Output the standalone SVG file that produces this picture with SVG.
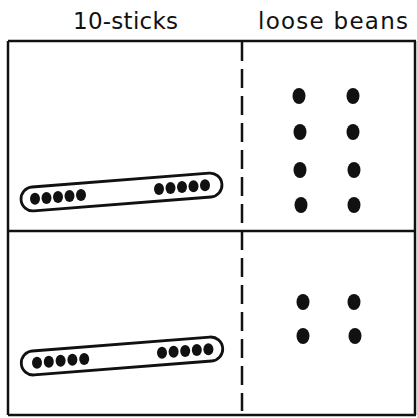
<svg xmlns="http://www.w3.org/2000/svg" width="417" height="418" viewBox="0 0 417 418">
<style>
.line{stroke:#111;stroke-width:2.5;fill:none}
.dash{stroke:#111;stroke-width:2.5;fill:none;stroke-dasharray:19 8}
.stick{fill:#fff;stroke:#111;stroke-width:2.8}
.dot{fill:#111}
.bean{fill:#111}
.hdr{font-family:"DejaVu Sans",sans-serif;font-size:23px;fill:#111}
</style>
<rect width="417" height="418" fill="#fff"/>
<g id="header-sticks"><text class="hdr" x="73" y="29" textLength="105" lengthAdjust="spacing">10-sticks</text></g>
<g id="header-beans"><text class="hdr" x="258" y="29" textLength="150" lengthAdjust="spacing">loose beans</text></g>
<g id="connectors">
<line class="line" x1="8" y1="41" x2="416" y2="41"/>
<line class="line" x1="8" y1="41" x2="8" y2="415"/>
<line class="line" x1="415" y1="41" x2="415" y2="415"/>
<line class="line" x1="8" y1="415" x2="416" y2="415"/>
<line class="line" x1="8" y1="231" x2="416" y2="231"/>
<line class="dash" x1="242" y1="42" x2="242" y2="411"/>
</g>
<g id="row1-sticks">
<rect class="stick" x="-100.75" y="-12" width="201.5" height="24" rx="12" transform="translate(121.5,192) rotate(-4.5)"/>
<ellipse class="dot" cx="35" cy="198.8" rx="5" ry="6"/>
<ellipse class="dot" cx="46.5" cy="197.9" rx="5" ry="6"/>
<ellipse class="dot" cx="58" cy="197" rx="5" ry="6"/>
<ellipse class="dot" cx="69.5" cy="196.1" rx="5" ry="6"/>
<ellipse class="dot" cx="81" cy="195.1" rx="5" ry="6"/>
<ellipse class="dot" cx="159" cy="189" rx="5" ry="6"/>
<ellipse class="dot" cx="170.5" cy="188.1" rx="5" ry="6"/>
<ellipse class="dot" cx="182" cy="187.1" rx="5" ry="6"/>
<ellipse class="dot" cx="193.5" cy="186.3" rx="5" ry="6"/>
<ellipse class="dot" cx="205" cy="185.3" rx="5" ry="6"/>
</g>
<g id="row1-beans">
<ellipse class="bean" cx="299" cy="96" rx="6.5" ry="8"/>
<ellipse class="bean" cx="353" cy="96" rx="6.5" ry="8"/>
<ellipse class="bean" cx="300" cy="132" rx="6.5" ry="8"/>
<ellipse class="bean" cx="353" cy="132" rx="6.5" ry="8"/>
<ellipse class="bean" cx="300" cy="170" rx="6.5" ry="8"/>
<ellipse class="bean" cx="354" cy="170" rx="6.5" ry="8"/>
<ellipse class="bean" cx="301" cy="205" rx="6.5" ry="8"/>
<ellipse class="bean" cx="354" cy="205" rx="6.5" ry="8"/>
</g>
<g id="row2-sticks">
<rect class="stick" x="-101" y="-12" width="202" height="24" rx="12" transform="translate(122,356) rotate(-4.5)"/>
<ellipse class="dot" cx="37" cy="362.7" rx="5" ry="6"/>
<ellipse class="dot" cx="48.8" cy="361.7" rx="5" ry="6"/>
<ellipse class="dot" cx="60.6" cy="360.8" rx="5" ry="6"/>
<ellipse class="dot" cx="72.4" cy="359.8" rx="5" ry="6"/>
<ellipse class="dot" cx="84.2" cy="358.9" rx="5" ry="6"/>
<ellipse class="dot" cx="162" cy="352.8" rx="5" ry="6"/>
<ellipse class="dot" cx="173.6" cy="351.8" rx="5" ry="6"/>
<ellipse class="dot" cx="185.2" cy="350.9" rx="5" ry="6"/>
<ellipse class="dot" cx="196.8" cy="350" rx="5" ry="6"/>
<ellipse class="dot" cx="208.4" cy="349.2" rx="5" ry="6"/>
</g>
<g id="row2-beans">
<ellipse class="bean" cx="303" cy="302" rx="6.5" ry="8"/>
<ellipse class="bean" cx="354" cy="302" rx="6.5" ry="8"/>
<ellipse class="bean" cx="303" cy="336" rx="6.5" ry="8"/>
<ellipse class="bean" cx="355" cy="336" rx="6.5" ry="8"/>
</g>
</svg>
